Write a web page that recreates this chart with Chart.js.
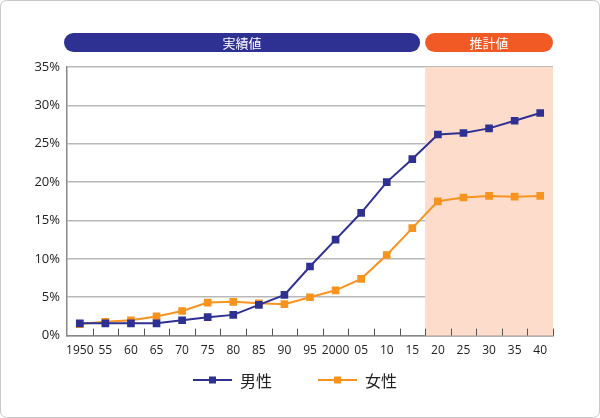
<!DOCTYPE html>
<html>
<head>
<meta charset="utf-8">
<script src="https://cdn.jsdelivr.net/npm/chart.js@4/dist/chart.umd.min.js"></script>
<style>
  html, body { margin: 0; padding: 0; background: #fff; }
  #wrap { width: 600px; height: 418px; position: relative; }
</style>
</head>
<body>
<div id="wrap"><canvas id="ratioChart"></canvas></div>
<script>
const jahre = ['1950', '55', '60', '65', '70', '75', '80', '85', '90', '95', '2000', '05', '10', '15', '20', '25', '30', '35', '40'];
const maenner = [1.6, 1.6, 1.6, 1.6, 2.0, 2.4, 2.7, 4.0, 5.3, 9.0, 12.5, 16.0, 20.0, 23.0, 26.2, 26.4, 27.0, 28.0, 29.0];
const frauen = [1.5, 1.8, 2.0, 2.5, 3.2, 4.3, 4.4, 4.2, 4.1, 5.0, 5.9, 7.4, 10.5, 14.0, 17.5, 18.0, 18.2, 18.1, 18.2];
const yTicks = [0, 5, 10, 15, 20, 25, 30, 35];
const serienNamen = ['男性', '女性'];
const kopfLabels = ['実績値', '推計値'];
const ersterSchaetzIndex = 14;

const navy = '#2e3192';
const orange = '#f7931e';
const kopfOrange = '#f15a24';
const cjk = '"Noto Sans CJK JP", "Noto Sans", sans-serif';

function pille(ctx, x1, x2, y, h, farbe, text) {
    const r = h / 2;
    ctx.fillStyle = farbe;
    ctx.beginPath();
    ctx.moveTo(x1 + r, y);
    ctx.lineTo(x2 - r, y);
    ctx.arc(x2 - r, y + r, r, -Math.PI / 2, Math.PI / 2);
    ctx.lineTo(x1 + r, y + h);
    ctx.arc(x1 + r, y + r, r, Math.PI / 2, Math.PI * 1.5);
    ctx.closePath();
    ctx.fill();
    ctx.fillStyle = '#fff';
    ctx.font = '13px ' + cjk;
    ctx.textAlign = 'center';
    ctx.textBaseline = 'middle';
    ctx.fillText(text, (x1 + x2) / 2, y + r + 1);
}

function legendeEintrag(ctx, x, y, farbe, text) {
    ctx.strokeStyle = farbe;
    ctx.lineWidth = 2;
    ctx.beginPath();
    ctx.moveTo(x, y);
    ctx.lineTo(x + 39, y);
    ctx.stroke();
    ctx.fillStyle = farbe;
    ctx.fillRect(x + 16, y - 3.5, 7, 7);
    ctx.fillStyle = '#222';
    ctx.font = '16px ' + cjk;
    ctx.textAlign = 'left';
    ctx.textBaseline = 'middle';
    ctx.fillText(text, x + 47, y + 1);
}

const zeichenPlugin = {
    id: 'zeichenPlugin',
    beforeDatasetsDraw(chart) {
        const ctx = chart.ctx;
        const area = chart.chartArea;
        const x = chart.scales.x;
        const schritt = x.getPixelForValue(1) - x.getPixelForValue(0);
        const grenze = x.getPixelForValue(ersterSchaetzIndex) - schritt / 2;
        ctx.save();
        ctx.fillStyle = '#fddccb';
        ctx.fillRect(grenze, area.top, area.right - grenze, area.bottom - area.top);
        // kleine Striche nach innen
        ctx.strokeStyle = '#555';
        ctx.lineWidth = 1;
        for (let i = 0; i < jahre.length; i++) {
            const px = Math.round(x.getPixelForValue(i) + schritt / 2) + 0.5;
            ctx.beginPath();
            ctx.moveTo(px, area.bottom);
            ctx.lineTo(px, area.bottom - 7);
            ctx.stroke();
        }
        ctx.restore();
    },
    afterDraw(chart) {
        const ctx = chart.ctx;
        const area = chart.chartArea;
        const x = chart.scales.x;
        const schritt = x.getPixelForValue(1) - x.getPixelForValue(0);
        const grenze = x.getPixelForValue(ersterSchaetzIndex) - schritt / 2;
        ctx.save();
        pille(ctx, area.left - 3, grenze - 5, 33, 19, navy, kopfLabels[0]);
        pille(ctx, grenze, area.right, 33, 19, kopfOrange, kopfLabels[1]);
        const farben = chart.data.datasets.map(ds => ds.borderColor);
        legendeEintrag(ctx, 193, 380, farben[0], serienNamen[0]);
        legendeEintrag(ctx, 318, 380, farben[1], serienNamen[1]);
        // Rahmen
        ctx.strokeStyle = '#c8c8c8';
        ctx.lineWidth = 1;
        ctx.beginPath();
        ctx.roundRect(0.5, 0.5, chart.width - 1, chart.height - 1, 6);
        ctx.stroke();
        ctx.restore();
    }
};

document.addEventListener('DOMContentLoaded', () => {
    const ctx = document.getElementById('ratioChart').getContext('2d');
    new Chart(ctx, {
        type: 'line',
        data: {
            labels: jahre,
            datasets: [{
                label: serienNamen[0],
                data: maenner,
                borderColor: navy,
                backgroundColor: navy,
                borderWidth: 2,
                pointStyle: 'rect',
                pointRadius: 4,
                pointHoverRadius: 4,
                fill: false
            }, {
                label: serienNamen[1],
                data: frauen,
                borderColor: orange,
                backgroundColor: orange,
                borderWidth: 2,
                pointStyle: 'rect',
                pointRadius: 4,
                pointHoverRadius: 4,
                fill: false
            }]
        },
        options: {
            responsive: true,
            maintainAspectRatio: false,
            animation: false,
            layout: {
                padding: { left: 20, right: 47, top: 67, bottom: 60 }
            },
            plugins: {
                tooltip: { enabled: false },
                legend: { display: false }
            },
            scales: {
                x: {
                    offset: true,
                    grid: { display: false },
                    border: { display: true, color: '#888', width: 1.5 },
                    ticks: {
                        color: '#222',
                        padding: 0,
                        maxRotation: 0,
                        autoSkip: false,
                        font: { size: 12, family: '"Open Sans", sans-serif' }
                    }
                },
                y: {
                    min: 0,
                    max: 35,
                    afterFit(scale) { scale.width = 47; },
                    afterBuildTicks(scale) { scale.ticks = yTicks.map(v => ({ value: v })); },
                    grid: { color: '#b8b8b8', lineWidth: 1.5, drawTicks: false },
                    border: { display: true, color: '#888', width: 1.5 },
                    ticks: {
                        color: '#222',
                        padding: 7,
                        font: { size: 13, family: '"Open Sans", sans-serif' },
                        callback: v => v + '%'
                    }
                }
            }
        },
        plugins: [zeichenPlugin]
    });
});
</script>
</body>
</html>
